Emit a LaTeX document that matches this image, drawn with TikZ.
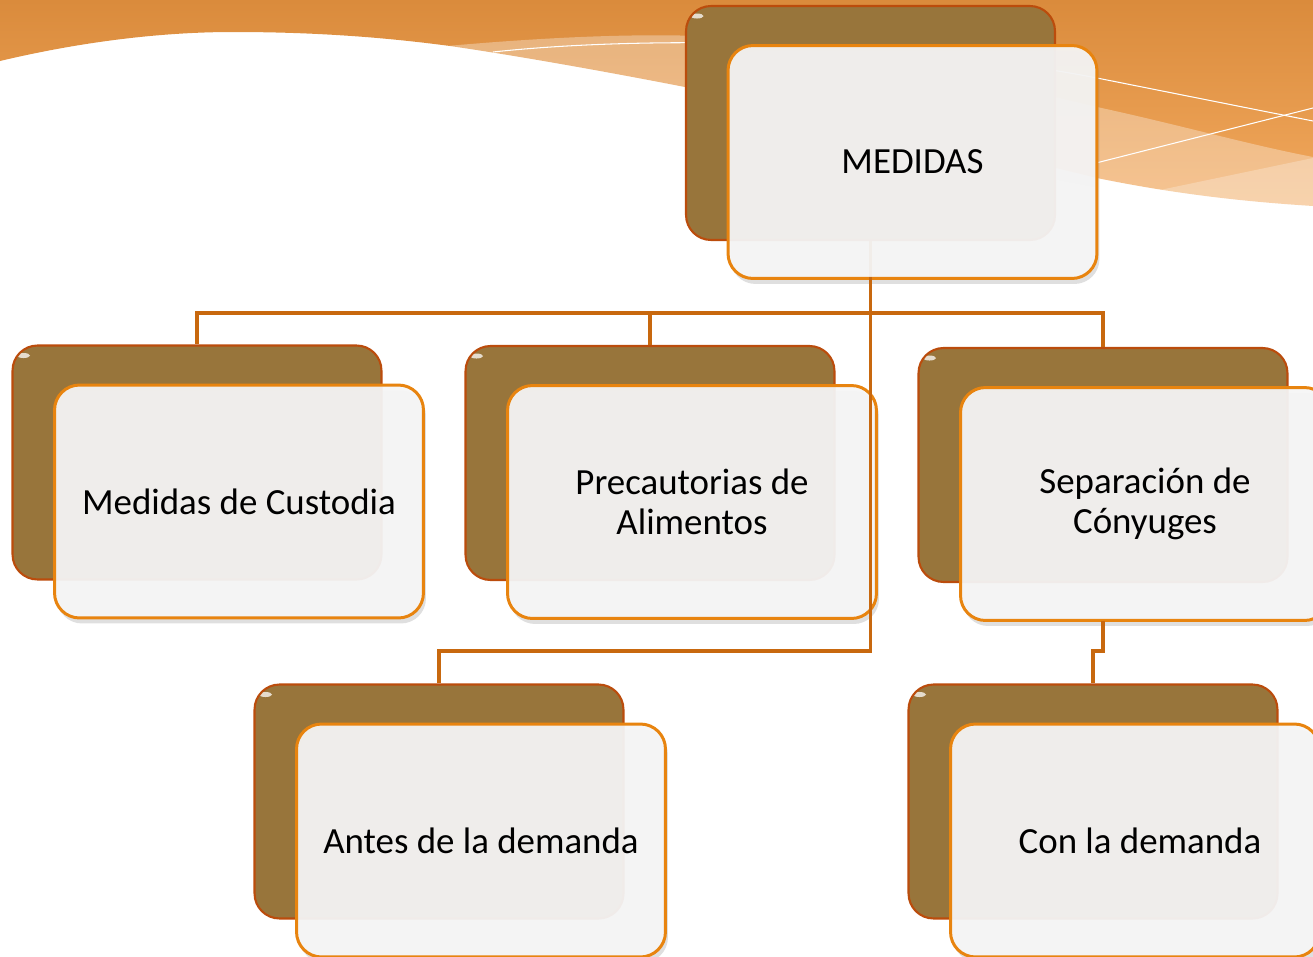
\documentclass[tikz,border=0pt]{standalone}
\usepackage{fontspec}
\setmainfont{Carlito}
\usepackage{xcolor}
\usepackage{tikz}
\usetikzlibrary{calc, shadows}

\definecolor{naranjaArriba}{HTML}{DA8B3C}
\definecolor{naranjaAbajo}{HTML}{F2A95E}
\definecolor{cafeCaja}{HTML}{98753B}
\definecolor{bordeCafe}{HTML}{BB4C0C}
\definecolor{bordeFrente}{HTML}{E8840F}
\definecolor{rellenoFrente}{HTML}{F5F5F5}
\definecolor{lineaConector}{HTML}{C8680E}

\begin{document}
\begin{tikzpicture}[x=0.02cm, y=-0.02cm,
    cajaFondo/.style={draw=bordeCafe, line width=1.2pt, fill=cafeCaja,
        rounded corners=0.5cm, minimum width=7.38cm, minimum height=4.68cm, inner sep=0pt,
        path picture={\fill[white, opacity=0.75, rotate around={45:([shift={(0.22cm,-0.2cm)}]path picture bounding box.north west)}]
            ([shift={(0.22cm,-0.2cm)}]path picture bounding box.north west) ellipse (0.13cm and 0.05cm);}},
    cajaFrente/.style={draw=bordeFrente, line width=1.7pt, fill=rellenoFrente, fill opacity=0.94,
        text opacity=1, rounded corners=0.5cm, minimum width=7.38cm, minimum height=4.66cm,
        inner sep=0pt, align=center, font=\fontsize{21}{23}\selectfont,
        drop shadow={opacity=0.25, shadow xshift=0.5mm, shadow yshift=-1.1mm}},
    conector/.style={draw=lineaConector, line width=1.8pt}]

    % =================================================================
    % 1. MARCO DE LA FIGURA Y FRANJA NARANJA SUPERIOR
    % =================================================================
    \useasboundingbox (0,0) rectangle (1313,957);
    \clip (0,0) rectangle (1313,957);

    % Onda naranja de fondo
    \shade[top color=naranjaArriba, bottom color=naranjaAbajo]
        (0,0) -- (0,61) .. controls (80,42) and (160,32) .. (233,32)
        .. controls (320,32) and (390,38) .. (450,46)
        .. controls (560,62) and (800,105) .. (1097,178)
        .. controls (1180,195) and (1250,202) .. (1313,206) -- (1313,0) -- cycle;

    % Bandas claras translucidas
    \fill[white, opacity=0.32]
        (447,46) .. controls (560,36) and (640,34) .. (700,36)
        .. controls (850,45) and (980,80) .. (1097,107)
        .. controls (1180,125) and (1250,145) .. (1313,157)
        -- (1313,230) -- (447,60) -- cycle;
    \fill[white, opacity=0.25] (1160,190) -- (1313,158) -- (1313,240) -- (1160,240) -- cycle;

    % Lineas blancas finas
    \draw[white, line width=0.6pt] (493,52) .. controls (650,35) and (900,40) .. (1097,78) -- (1313,121);
    \draw[white, line width=0.6pt] (1096,163) -- (1313,108);

    % =================================================================
    % 2. CAJAS DE FONDO (CAFE)
    % =================================================================
    \node[cajaFondo] (Medidas) at (870.5,123) {};
    \node[cajaFondo] (Custodia) at (197,462.5) {};
    \node[cajaFondo] (Precautorias) at (650,463) {};
    \node[cajaFondo] (Separacion) at (1103,465) {};
    \node[cajaFondo] (Antes) at (439,801.5) {};
    \node[cajaFondo] (Con) at (1093,801.5) {};

    % Tramo del tronco que queda detras de la caja MEDIDAS
    \coordinate (TroncoBajo) at (870.5,277);
    \draw[conector] (Medidas.south) -- (TroncoBajo);

    % =================================================================
    % 3. CAJAS DE FRENTE CON EL TEXTO
    % =================================================================
    \node[cajaFrente] (MedidasF) at ([shift={(42,39)}]Medidas.center) {MEDIDAS};
    \node[cajaFrente] (CustodiaF) at ([shift={(42,39)}]Custodia.center) {Medidas de Custodia};
    \node[cajaFrente] (PrecautoriasF) at ([shift={(42,39)}]Precautorias.center) {Precautorias de\\Alimentos};
    \node[cajaFrente] (SeparacionF) at ([shift={(42,39)}]Separacion.center) {Separación de\\Cónyuges};
    \node[cajaFrente] (AntesF) at ([shift={(42,39)}]Antes.center) {Antes de la demanda};
    \node[cajaFrente] (ConF) at ([shift={(42,39)}]Con.center) {\hspace*{0.2cm}Con la demanda};

    % =================================================================
    % 4. CONECTORES DE LA JERARQUIA
    % =================================================================
    \coordinate (Barra) at (870.5,313);
    \coordinate (BarraAntes) at (870.5,651);
    \coordinate (SeparacionBajo) at (1103,621);
    \coordinate (BarraCon) at (1103,651);

    \draw[conector] (TroncoBajo) -- (Barra) -| (Custodia.north);
    \draw[conector] (Barra) -| (Precautorias.north);
    \draw[conector] (Barra) -| (Separacion.north);
    \draw[conector] (Barra) -- (BarraAntes) -| (Antes.north);
    \draw[conector] (SeparacionBajo) -- (BarraCon) -| (Con.north);

\end{tikzpicture}
\end{document}
